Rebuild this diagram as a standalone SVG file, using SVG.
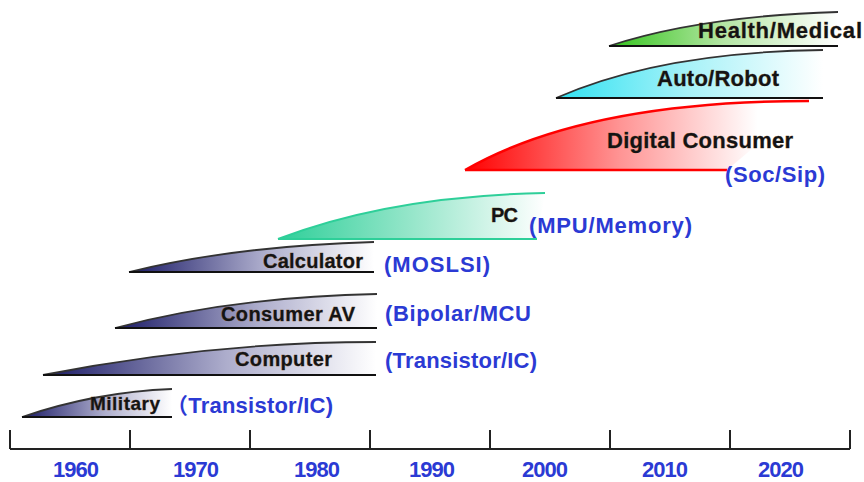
<svg xmlns="http://www.w3.org/2000/svg" width="864" height="482" viewBox="0 0 864 482">
  <style>
    .name { font-family: "Liberation Sans", Arial, sans-serif; font-weight: bold; fill: #141414; stroke: #7a4a18; stroke-width: 0.4; paint-order: stroke; }
    .tech { font-family: "Liberation Sans", Arial, "Noto Sans CJK SC", sans-serif; font-weight: bold; fill: #2b3ad4; font-size: 22px; }
    .year { font-family: "Liberation Sans", Arial, sans-serif; font-weight: bold; fill: #2b3ad4; font-size: 22px; text-anchor: middle; }
    .axis { stroke: #222; stroke-width: 2; fill: none; }
    .edge-dark { stroke: #333; stroke-width: 1.8; fill: none; }
    .base-dark { stroke: #111; stroke-width: 2; fill: none; }
  </style>
  <defs>
    <linearGradient id="navy" x1="0" y1="0" x2="1" y2="0">
      <stop offset="0" stop-color="#1a1a66"/>
      <stop offset="0.55" stop-color="#adadcc"/>
      <stop offset="1" stop-color="#ffffff"/>
    </linearGradient>
    <linearGradient id="teal" x1="0" y1="0" x2="1" y2="0">
      <stop offset="0" stop-color="#2ecf99"/>
      <stop offset="0.5" stop-color="#96e6ca"/>
      <stop offset="1" stop-color="#ffffff"/>
    </linearGradient>
    <linearGradient id="red" x1="0" y1="0" x2="1" y2="0">
      <stop offset="0" stop-color="#ff0000"/>
      <stop offset="0.45" stop-color="#ff9494"/>
      <stop offset="0.85" stop-color="#ffffff"/>
    </linearGradient>
    <linearGradient id="cyan" x1="0" y1="0" x2="1" y2="0">
      <stop offset="0" stop-color="#30e2f2"/>
      <stop offset="0.5" stop-color="#a8f2f8"/>
      <stop offset="1" stop-color="#ffffff"/>
    </linearGradient>
    <linearGradient id="green" x1="0" y1="0" x2="1" y2="0">
      <stop offset="0" stop-color="#33c41c"/>
      <stop offset="0.5" stop-color="#b4e6a4"/>
      <stop offset="1" stop-color="#ffffff"/>
    </linearGradient>
  </defs>

  <!-- time axis -->
  <g id="axis">
    <path class="axis" d="M10,449 H850 M10,430 V449 M130,430 V449 M250,430 V449 M370,430 V449 M490,430 V449 M610,430 V449 M730,430 V449 M850,430 V449"/>
    <text class="year" x="76" y="477" textLength="46">1960</text>
    <text class="year" x="196" y="477" textLength="46">1970</text>
    <text class="year" x="317" y="477" textLength="46">1980</text>
    <text class="year" x="432" y="477" textLength="46">1990</text>
    <text class="year" x="545" y="477" textLength="46">2000</text>
    <text class="year" x="665" y="477" textLength="46">2010</text>
    <text class="year" x="781" y="477" textLength="46">2020</text>
  </g>

  <g id="military">
    <path fill="url(#navy)" d="M22,417 Q95,392 172,389 V417 Z"/>
    <path class="edge-dark" d="M22,417 Q95,392 172,389"/>
    <path class="base-dark" d="M22,417 H172"/>
    <text class="name" x="90" y="410" font-size="19" textLength="70">Military</text>
    <text class="tech" x="166" y="413" textLength="167">（Transistor/IC)</text>
  </g>

  <g id="computer">
    <path fill="url(#navy)" d="M43,375 Q210,342 376,342 V375 Z"/>
    <path class="edge-dark" d="M43,375 Q210,342 376,342"/>
    <path class="base-dark" d="M43,375 H376"/>
    <text class="name" x="235" y="366" font-size="20" textLength="97">Computer</text>
    <text class="tech" x="385" y="368" textLength="152">(Transistor/IC)</text>
  </g>

  <g id="consumer-av">
    <path fill="url(#navy)" d="M115,328 Q230,297 377,294 V328 Z"/>
    <path class="edge-dark" d="M115,328 Q230,297 377,294"/>
    <path class="base-dark" d="M115,328 H377"/>
    <text class="name" x="221" y="321" font-size="20" textLength="134">Consumer AV</text>
    <text class="tech" x="385" y="321" textLength="146">(Bipolar/MCU</text>
  </g>

  <g id="calculator">
    <path fill="url(#navy)" d="M129,272 Q235,246 374,242 V272 Z"/>
    <path class="edge-dark" d="M129,272 Q235,246 374,242"/>
    <path class="base-dark" d="M129,272 H374"/>
    <text class="name" x="263" y="268" font-size="20" textLength="100">Calculator</text>
    <text class="tech" x="384" y="272" textLength="106">(MOSLSI)</text>
  </g>

  <g id="pc">
    <path fill="url(#teal)" d="M278,239 Q390,196 545,193 L537,239 Z"/>
    <path stroke="#2ecf99" stroke-width="2" fill="none" d="M278,239 Q390,196 545,193 M278,239 H537"/>
    <text class="name" x="491" y="222" font-size="20" textLength="27">PC</text>
    <text class="tech" x="529" y="233" textLength="163">(MPU/Memory)</text>
  </g>

  <g id="digital-consumer">
    <path fill="url(#red)" d="M465,170 Q585,101 809,101 L727,170 Z"/>
    <path stroke="#ff0000" stroke-width="2.5" fill="none" d="M465,170 Q585,101 809,101 M465,170 H727"/>
    <text class="name" x="607" y="148" font-size="22" textLength="186">Digital Consumer</text>
    <text class="tech" x="725" y="182" textLength="100">(Soc/Sip)</text>
  </g>

  <g id="auto-robot">
    <path fill="url(#cyan)" d="M556,98 Q660,52 823,50 V98 Z"/>
    <path class="edge-dark" d="M556,98 Q660,52 823,50"/>
    <path class="base-dark" d="M556,98 H823"/>
    <text class="name" x="657" y="86" font-size="22" textLength="122">Auto/Robot</text>
  </g>

  <g id="health-medical">
    <path fill="url(#green)" d="M609,46 Q700,16 838,12 V46 Z"/>
    <path class="edge-dark" d="M609,46 Q700,16 838,12"/>
    <path class="base-dark" d="M609,46 H838"/>
    <text class="name" x="698" y="38" font-size="22" textLength="164">Health/Medical</text>
  </g>

  <g id="connectors"/>
</svg>
